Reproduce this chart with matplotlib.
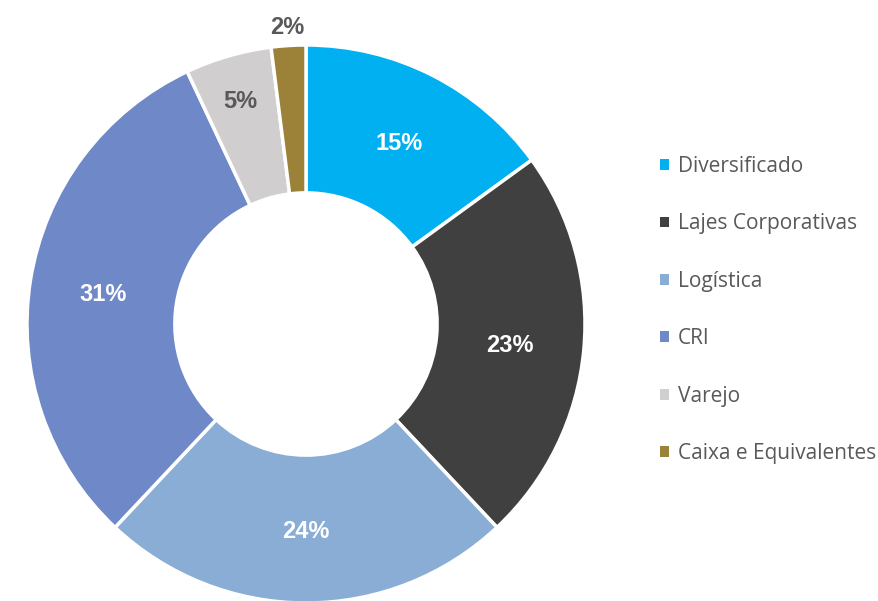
import matplotlib
matplotlib.use("Agg")
import matplotlib.pyplot as plt
from matplotlib.patches import Rectangle
import numpy as np

categories = ["Diversificado", "Lajes Corporativas", "Logística", "CRI", "Varejo", "Caixa e Equivalentes"]
values = [15, 23, 24, 31, 5, 2]
colors = ["#00B0F0", "#404040", "#8AADD6", "#6E88C8", "#D0CECF", "#9C8139"]
label_colors = ["white", "white", "white", "white", "#595959", "#595959"]
label_radii = [0.735, 0.735, 0.735, 0.735, 0.84, 1.075]

W, H = 879, 601
fig = plt.figure(figsize=(W / 100, H / 100), dpi=100)
cx, cy, R = 306, 324, 279
ax = fig.add_axes([(cx - R) / W, (H - cy - R) / H, 2 * R / W, 2 * R / H])

ring = 0.53
wedges, texts = ax.pie(values, colors=colors, startangle=90, counterclock=False,
                       radius=1.0,
                       wedgeprops=dict(width=ring, edgecolor="white", linewidth=2.5))
ax.set_xlim(-1, 1)
ax.set_ylim(-1, 1)
ax.set_aspect("equal")
ax.axis("off")

total = sum(values)
cum = 0
for v, c, r in zip(values, label_colors, label_radii):
    mid = 90 - 360 * (cum + v / 2) / total
    cum += v
    x, y = r * np.cos(np.radians(mid)), r * np.sin(np.radians(mid))
    ax.text(x, y, f"{v}%", ha="center", va="center_baseline", color=c,
            fontsize=17, fontweight="bold", family="Liberation Sans", clip_on=False)

handles = [Rectangle((0, 0), 1, 1, facecolor=c, edgecolor="none") for c in colors]
leg = fig.legend(handles, categories, loc="upper left",
                 bbox_to_anchor=(660 / W, 1 - 156 / H), frameon=False,
                 prop=dict(family="Open Sans", size=15),
                 handlelength=0.43, handleheight=0.43, handletextpad=0.43,
                 labelspacing=1.75, borderaxespad=0, borderpad=0)
for t in leg.get_texts():
    t.set_color("#595959")

fig.savefig("out.png", dpi=100)
